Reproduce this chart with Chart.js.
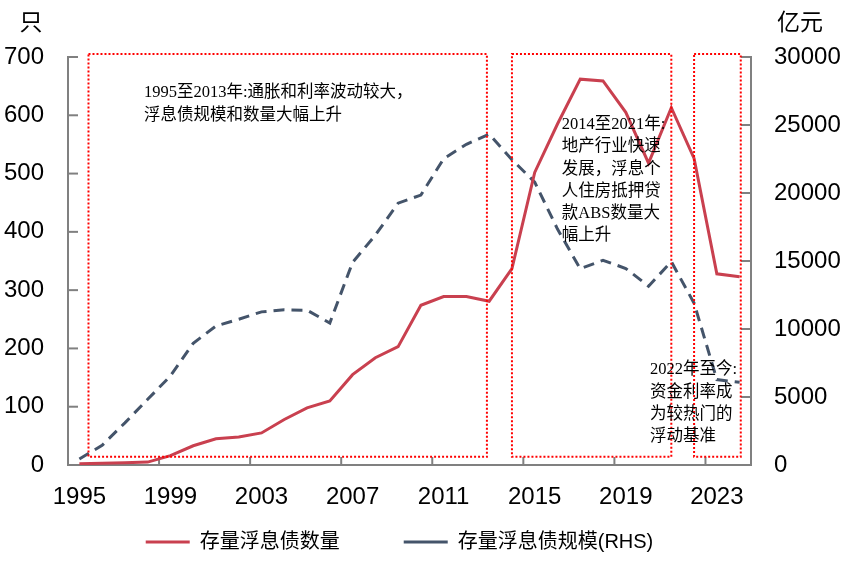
<!DOCTYPE html>
<html>
<head>
<meta charset="utf-8">
<script src="https://cdn.jsdelivr.net/npm/chart.js@4.4.0/dist/chart.umd.min.js"></script>
<style>
  html, body { margin: 0; padding: 0; background: #fff; }
</style>
</head>
<body>
<canvas id="chart" width="847" height="562"></canvas>
<script>
// 年份（类目）
const years = ['1995', '1996', '1997', '1998', '1999', '2000', '2001', '2002', '2003', '2004',
               '2005', '2006', '2007', '2008', '2009', '2010', '2011', '2012', '2013', '2014',
               '2015', '2016', '2017', '2018', '2019', '2020', '2021', '2022', '2023', '2024'];
// 存量浮息债数量（只，左轴）
const bondCount = [2, 3, 4, 5, 16, 33, 45, 48, 55, 78,
                   98, 110, 155, 184, 203, 274, 289, 289, 281, 337,
                   502, 585, 662, 659, 605, 518, 613, 526, 328, 323];
// 存量浮息债规模（亿元，右轴）
const bondScale = [445, 1450, 3100, 4830, 6550, 8950, 10220, 10720, 11260, 11410,
                   11380, 10440, 14900, 16900, 19250, 19850, 22520, 23580, 24330, 22450,
                   20800, 17350, 14430, 15050, 14450, 13150, 14950, 11900, 6280, 6080];
const leftTicks = [0, 100, 200, 300, 400, 500, 600, 700];
const rightTicks = [0, 5000, 10000, 15000, 20000, 25000, 30000];

// 阶段框（类目序号）与说明文字
const phaseBoxes = [
  { from: 0.4, to: 17.9 },
  { from: 19, to: 26 },
  { from: 27, to: 29.05 }
];
const phaseNotes = [
  { x: 2.84, y: 638, lines: ['1995至2013年:通胀和利率波动较大，', '浮息债规模和数量大幅上升'] },
  { x: 21.19, y: 584, lines: ['2014至2021年:', '地产行业快速', '发展，浮息个', '人住房抵押贷', '款ABS数量大', '幅上升'] },
  { x: 25.06, y: 163, lines: ['2022年至今:', '资金利率成', '为较热门的', '浮动基准'] }
];

const axisGray = '#808080';
const tickFont = { family: '"Liberation Sans", Arial, sans-serif', size: 24 };

const decorPlugin = {
  id: 'decor',
  beforeDatasetsDraw(chart) {
    const { ctx, chartArea, scales } = chart;
    ctx.save();
    ctx.strokeStyle = axisGray;
    ctx.lineWidth = 2;
    const xs = scales.x;
    const half = (xs.getPixelForValue(1) - xs.getPixelForValue(0)) / 2;
    years.forEach((y, i) => {
      if (i % 4 === 0 && i > 0) {
        const px = xs.getPixelForValue(i) - half;
        ctx.beginPath();
        ctx.moveTo(px, chartArea.bottom);
        ctx.lineTo(px, chartArea.bottom - 8);
        ctx.stroke();
      }
    });
    leftTicks.forEach(v => {
      const py = scales.y.getPixelForValue(v);
      ctx.beginPath();
      ctx.moveTo(chartArea.left, py);
      ctx.lineTo(chartArea.left + 10, py);
      ctx.stroke();
    });
    rightTicks.forEach(v => {
      const py = scales.y1.getPixelForValue(v);
      ctx.beginPath();
      ctx.moveTo(chartArea.right, py);
      ctx.lineTo(chartArea.right - 10, py);
      ctx.stroke();
    });
    ctx.restore();
  },
  afterDatasetsDraw(chart) {
    const { ctx, scales } = chart;
    const xs = scales.x, ys = scales.y;
    ctx.save();
    // 红色虚线框
    ctx.strokeStyle = '#FF0000';
    ctx.lineWidth = 2;
    ctx.setLineDash([2, 2]);
    phaseBoxes.forEach(b => {
      const x0 = xs.getPixelForValue(b.from), x1 = xs.getPixelForValue(b.to);
      const y0 = ys.getPixelForValue(705), y1 = ys.getPixelForValue(14);
      ctx.strokeRect(x0, y0, x1 - x0, y1 - y0);
    });
    ctx.setLineDash([]);
    // 说明文字
    ctx.fillStyle = '#000';
    ctx.font = '16.5px "Liberation Serif", "Noto Sans CJK SC", serif';
    ctx.textBaseline = 'middle';
    ctx.textAlign = 'left';
    phaseNotes.forEach(n => {
      const px = xs.getPixelForValue(n.x);
      const py = ys.getPixelForValue(n.y);
      n.lines.forEach((t, i) => ctx.fillText(t, px, py + i * 22.3));
    });
    // 单位
    ctx.font = '23px "Noto Sans CJK SC", sans-serif';
    ctx.textAlign = 'center';
    ctx.fillText('只', 31, 21);
    ctx.fillText('亿元', 800, 21);
    ctx.restore();
  }
};

new Chart(document.getElementById('chart'), {
  type: 'line',
  data: {
    labels: years,
    datasets: [
      {
        label: '存量浮息债数量\u3000\u3000\u3000',
        data: bondCount,
        yAxisID: 'y',
        borderColor: '#C9404F',
        backgroundColor: '#C9404F',
        borderWidth: 3,
        pointRadius: 0,
        tension: 0
      },
      {
        label: '存量浮息债规模(RHS)\u3000',
        data: bondScale,
        yAxisID: 'y1',
        borderColor: '#44546A',
        backgroundColor: '#44546A',
        borderWidth: 3,
        borderDash: [11, 7],
        pointRadius: 0,
        tension: 0
      }
    ]
  },
  options: {
    responsive: false,
    animation: false,
    layout: { padding: { top: 57, left: 0, right: 0, bottom: 0 } },
    plugins: {
      tooltip: { enabled: false },
      legend: {
        position: 'bottom',
        fullSize: false,
        labels: {
          usePointStyle: true,
          pointStyle: 'line',
          pointStyleWidth: 44,
          padding: 4,
          color: '#000',
          font: { family: '"Liberation Sans", "Noto Sans CJK SC", sans-serif', size: 20 }
        }
      }
    },
    scales: {
      x: {
        offset: true,
        grid: { display: false },
        border: { display: true, color: axisGray, width: 2 },
        ticks: {
          autoSkip: false,
          maxRotation: 0,
          padding: 10,
          color: '#000',
          font: tickFont,
          callback: function (v, i) { return i % 4 === 0 ? this.getLabelForValue(v) : ''; }
        },
        afterFit: s => { s.height = 63; }
      },
      y: {
        position: 'left',
        min: 0,
        max: 700,
        grid: { display: false },
        border: { display: true, color: axisGray, width: 2 },
        ticks: { stepSize: 100, padding: 16, color: '#000', font: tickFont },
        afterFit: s => { s.width = 68; }
      },
      y1: {
        position: 'right',
        min: 0,
        max: 30000,
        grid: { display: false },
        border: { display: true, color: axisGray, width: 2 },
        ticks: { stepSize: 5000, padding: 15, color: '#000', font: tickFont, callback: v => String(v) },
        afterFit: s => { s.width = 96; }
      }
    }
  },
  plugins: [decorPlugin]
});
</script>
</body>
</html>
